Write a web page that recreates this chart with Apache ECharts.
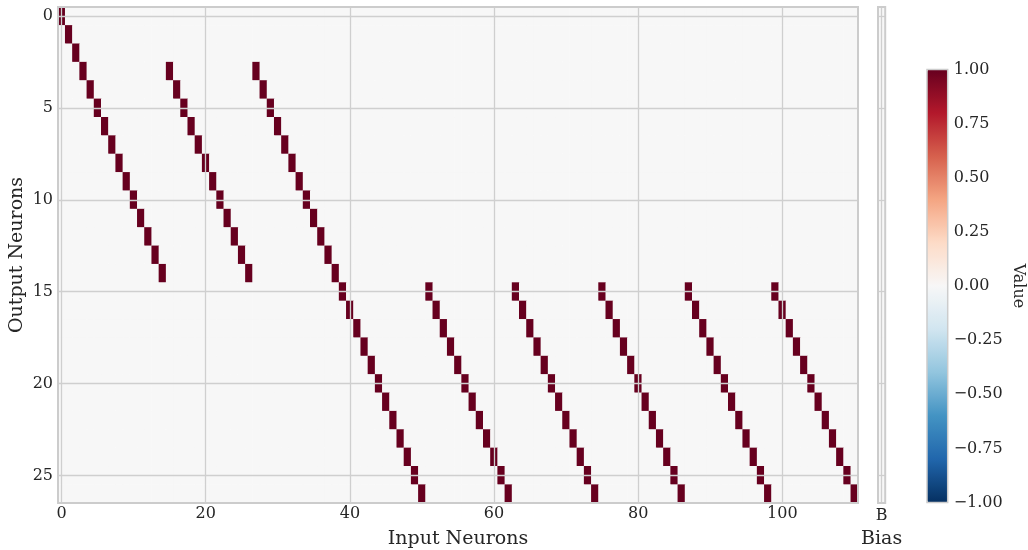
<!DOCTYPE html>
<html>
<head>
<meta charset="utf-8">
<script src="https://cdn.jsdelivr.net/npm/echarts@6/dist/echarts.min.js"></script>
<style>
html,body{margin:0;padding:0;background:#fff;}
#chart{width:1028px;height:550px;}
</style>
</head>
<body>
<div id="chart"></div>
<script>
// ---- data ----
const nInputs = 111;   // input neurons 0..110
const nOutputs = 27;   // output neurons 0..26
// columns holding weight 1.0 in each output row (all other weights are 0)
const activeCols = [
  [0], [1], [2],
  [3, 15, 27], [4, 16, 28], [5, 17, 29], [6, 18, 30], [7, 19, 31], [8, 20, 32],
  [9, 21, 33], [10, 22, 34], [11, 23, 35], [12, 24, 36], [13, 25, 37], [14, 26, 38],
  [39, 51, 63, 75, 87, 99], [40, 52, 64, 76, 88, 100], [41, 53, 65, 77, 89, 101],
  [42, 54, 66, 78, 90, 102], [43, 55, 67, 79, 91, 103], [44, 56, 68, 80, 92, 104],
  [45, 57, 69, 81, 93, 105], [46, 58, 70, 82, 94, 106], [47, 59, 71, 83, 95, 107],
  [48, 60, 72, 84, 96, 108], [49, 61, 73, 85, 97, 109], [50, 62, 74, 86, 98, 110]
];
const activeValue = 1.0;
const biasValues = [0,0,0,0,0,0,0,0,0,0,0,0,0,0,0,0,0,0,0,0,0,0,0,0,0,0,0];
const xTicks = [0, 20, 40, 60, 80, 100];
const yTicks = [0, 5, 10, 15, 20, 25];
const biasCategories = ['B'];
const colorMin = -1, colorMax = 1, colorStep = 0.25;
// RdBu_r
const rdbuR = ['#053061','#2166ac','#4393c3','#92c5de','#d1e5f0','#f7f7f7','#fddbc7','#f4a582','#d6604d','#b2182b','#67001f'];

// ---- build library data ----
const xCats = Array.from({length: nInputs}, (_, i) => String(i));
const yCats = Array.from({length: nOutputs}, (_, i) => String(i));
const weightData = [];
for (let r = 0; r < nOutputs; r++) {
  for (let c = 0; c < nInputs; c++) {
    weightData.push([c, r, activeCols[r].includes(c) ? activeValue : 0]);
  }
}
const biasData = biasValues.map((v, r) => [0, r, v]);

const FONT = 'DejaVu Serif';
const TXT = '#262626';
const GRIDC = '#cfcfcf';
const TICK_FS = 16;

const gridLines = (xs, ys) => ({
  silent: true,
  symbol: ['none', 'none'],
  label: {show: false},
  animation: false,
  emphasis: {disabled: true},
  lineStyle: {color: GRIDC, width: 1.3, type: 'solid'},
  data: [...xs.map(v => ({xAxis: v})), ...ys.map(v => ({yAxis: v}))]
});

const chart = echarts.init(document.getElementById('chart'), null, {renderer: 'canvas'});
chart.setOption({
  animation: false,
  textStyle: {fontFamily: FONT},
  grid: [
    {left: 58, top: 7, width: 800, height: 496, show: true, borderColor: '#cccccc', borderWidth: 2, backgroundColor: 'transparent', z: 10, containLabel: false, outerBoundsMode: 'none'},
    {left: 878, top: 7, width: 7.2, height: 496, show: true, borderColor: '#cccccc', borderWidth: 2, backgroundColor: 'transparent', z: 10, containLabel: false, outerBoundsMode: 'none'},
    {left: 927, top: 69.5, width: 20.7, height: 433, show: true, borderColor: '#cccccc', borderWidth: 1.5, backgroundColor: 'transparent', z: 10, containLabel: false, outerBoundsMode: 'none'}
  ],
  xAxis: [
    {type: 'category', gridIndex: 0, data: xCats,
     axisLine: {show: false}, axisTick: {show: false}, splitLine: {show: false},
     axisLabel: {interval: 0, hideOverlap: false, alignMinLabel: 'center', alignMaxLabel: 'center',
       formatter: (v, i) => xTicks.includes(i) ? v : '',
       color: TXT, fontFamily: FONT, fontSize: TICK_FS, margin: 3},
     name: 'Input Neurons', nameLocation: 'middle', nameGap: 27, nameMoveOverlap: false,
     nameTextStyle: {color: TXT, fontFamily: FONT, fontSize: 19}},
    {type: 'category', gridIndex: 1, data: biasCategories,
     axisLine: {show: false}, axisTick: {show: false}, splitLine: {show: false},
     axisLabel: {color: TXT, fontFamily: FONT, fontSize: TICK_FS, margin: 5, alignMinLabel: 'center', alignMaxLabel: 'center'},
     name: 'Bias', nameLocation: 'middle', nameGap: 27, nameMoveOverlap: false,
     nameTextStyle: {color: TXT, fontFamily: FONT, fontSize: 19}},
    {type: 'value', gridIndex: 2, show: false, min: 0, max: 1}
  ],
  yAxis: [
    {type: 'category', gridIndex: 0, data: yCats, inverse: true,
     axisLine: {show: false}, axisTick: {show: false}, splitLine: {show: false},
     axisLabel: {interval: (i) => yTicks.includes(i), color: TXT, fontFamily: FONT, fontSize: TICK_FS, margin: 5},
     name: 'Output Neurons', nameLocation: 'middle', nameGap: 31, nameRotate: 90, nameMoveOverlap: false,
     nameTextStyle: {color: TXT, fontFamily: FONT, fontSize: 19}},
    {type: 'category', gridIndex: 1, data: yCats, inverse: true,
     axisLine: {show: false}, axisTick: {show: false}, splitLine: {show: false},
     axisLabel: {show: false}},
    {type: 'value', gridIndex: 2, position: 'right', min: colorMin, max: colorMax, interval: colorStep,
     axisLine: {show: false}, axisTick: {show: false}, splitLine: {show: false},
     axisLabel: {color: TXT, fontFamily: FONT, fontSize: TICK_FS, margin: 6,
       formatter: (v) => (v < 0 ? '\u2212' : '') + Math.abs(v).toFixed(2)},
     name: 'Value', nameLocation: 'middle', nameGap: 62, nameRotate: -90,
     nameTextStyle: {color: TXT, fontFamily: FONT, fontSize: 16}}
  ],
  visualMap: {
    type: 'continuous', min: colorMin, max: colorMax, calculable: false,
    seriesIndex: [0, 1], orient: 'vertical',
    left: 927, top: 69.5, padding: 0, itemWidth: 20.7, itemHeight: 433,
    inRange: {color: rdbuR}, text: null, hoverLink: false
  },
  series: [
    {type: 'heatmap', xAxisIndex: 0, yAxisIndex: 0, data: weightData, progressive: 0,
     emphasis: {disabled: true}, markLine: gridLines(xTicks, yTicks)},
    {type: 'heatmap', xAxisIndex: 1, yAxisIndex: 1, data: biasData, progressive: 0,
     emphasis: {disabled: true}, markLine: gridLines([0], yTicks)}
  ]
});
</script>
</body>
</html>
